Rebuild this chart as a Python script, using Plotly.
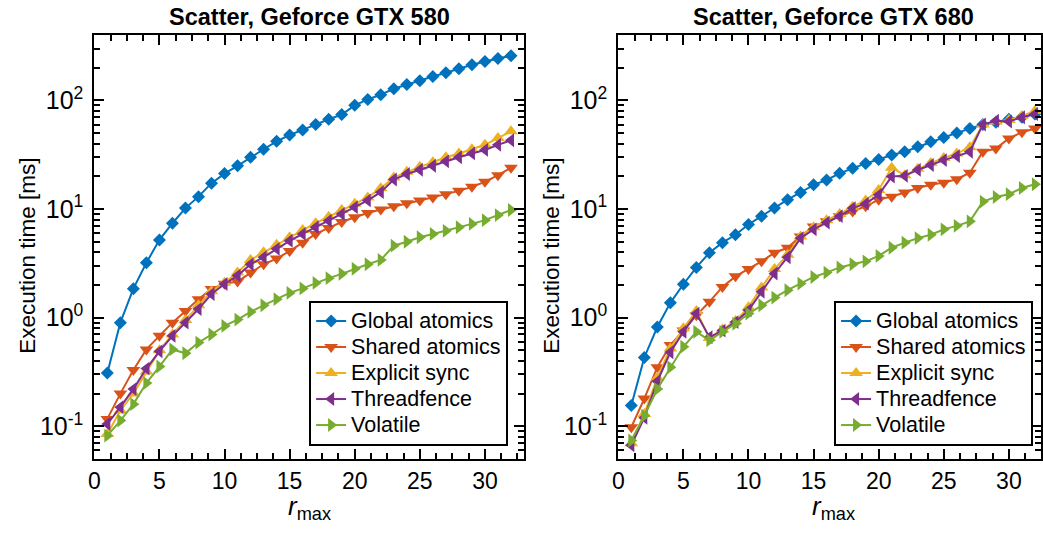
import plotly.graph_objects as go

# ---------------- data ----------------
r_max = list(range(1, 33))
series_names = ["Global atomics", "Shared atomics", "Explicit sync", "Threadfence", "Volatile"]

# GTX 580 (left panel), execution time in ms
gtx580_global = [0.31, 0.9, 1.85, 3.2, 5.2, 7.4, 10.2, 13, 17.3, 21.2, 25, 30, 35.5, 42, 48, 53.5,
                 60, 67, 74, 90, 102, 113, 128, 140, 152, 166, 180, 196, 213, 228, 243, 258]
gtx580_shared = [0.117, 0.2, 0.33, 0.51, 0.68, 0.9, 1.15, 1.48, 1.84, 2.05, 2.15, 2.6, 3.1, 3.5, 4.1, 4.9,
                 5.9, 6.7, 7.6, 8.4, 9.2, 9.9, 10.6, 11.3, 12.0, 12.8, 13.7, 14.7, 16.0, 17.8, 20.5, 24]
gtx580_explicit = [0.085, 0.14, 0.2, 0.32, 0.5, 0.7, 0.95, 1.3, 1.75, 2.1, 2.6, 3.4, 4.0, 4.7, 5.5, 6.4,
                   7.4, 8.5, 9.8, 11.2, 12.8, 15.5, 19.5, 22, 24.5, 27, 30, 32.5, 35.5, 39, 45, 52]
gtx580_threadfence = [0.105, 0.15, 0.22, 0.34, 0.49, 0.68, 0.9, 1.2, 1.65, 2.04, 2.44, 3.1, 3.6, 4.3, 5.1, 5.9,
                      6.8, 7.8, 9.0, 10.4, 12, 14.3, 18.7, 21, 23, 25, 27.5, 30, 32.5, 35, 39, 43]
gtx580_volatile = [0.082, 0.113, 0.16, 0.25, 0.355, 0.51, 0.47, 0.59, 0.7, 0.84, 0.96, 1.13, 1.3, 1.48, 1.69, 1.86,
                   2.09, 2.31, 2.53, 2.82, 3.1, 3.4, 4.6, 5.0, 5.5, 5.9, 6.3, 6.8, 7.3, 7.9, 8.8, 9.8]

# GTX 680 (right panel), execution time in ms
gtx680_global = [0.155, 0.43, 0.82, 1.37, 2.03, 2.9, 3.96, 4.9, 5.8, 7.2, 8.6, 10.2, 12.2, 14.2, 16.7, 18.5,
                 21.3, 23.7, 26.3, 28.6, 31.4, 33.7, 37.4, 41.6, 45.6, 50.2, 55, 60, 63, 67, 70, 75]
gtx680_shared = [0.098, 0.18, 0.35, 0.56, 0.76, 1.05, 1.4, 1.92, 2.4, 2.8, 3.3, 3.96, 4.4, 5.6, 6.9, 7.7,
                 8.6, 9.5, 10.6, 12.2, 13, 14.2, 15.6, 16.7, 17.5, 18.8, 21.6, 33.7, 36, 44.7, 51, 55]
gtx680_explicit = [0.07, 0.13, 0.28, 0.52, 0.8, 1.15, 0.65, 0.78, 0.93, 1.25, 1.9, 2.8, 3.8, 5.6, 6.8, 7.9,
                   9.0, 10.5, 12, 15, 24, 20.5, 23.5, 26.5, 29.5, 32.5, 37, 60, 64, 66, 72, 80]
gtx680_threadfence = [0.067, 0.12, 0.26, 0.48, 0.74, 1.09, 0.66, 0.76, 0.91, 1.17, 1.73, 2.55, 3.6, 5.4, 6.5, 7.5,
                      8.6, 10.2, 11.2, 13.5, 19.9, 20.2, 22.9, 25.4, 28.2, 30.7, 33.6, 60, 65, 64, 70, 75]
gtx680_volatile = [0.074, 0.125, 0.22, 0.35, 0.54, 0.74, 0.62, 0.74, 0.88, 1.09, 1.3, 1.53, 1.79, 2.06, 2.37, 2.6,
                   2.9, 3.1, 3.3, 3.7, 4.4, 4.9, 5.4, 5.8, 6.5, 7.0, 7.7, 11.7, 12.9, 13.7, 15.6, 16.9]

panel_titles = ["Scatter, Geforce GTX 580", "Scatter, Geforce GTX 680"]
y_tick_values = [0.1, 1, 10, 100]
y_tick_labels = ["10<sup>-1</sup>", "10<sup>0</sup>", "10<sup>1</sup>", "10<sup>2</sup>"]

# ---------------- style ----------------
colors = ["#0072BD", "#D95319", "#EDB120", "#7E2F8E", "#77AC30"]
symbols = ["diamond", "triangle-down", "triangle-up", "triangle-left", "triangle-right"]
sizes = [10, 12, 12, 12, 12]
FONT = "Liberation Sans, Arial, Helvetica, sans-serif"
W, H = 1043, 535
LEGEND_TEXT_PX = 21.5

panels = [
    [gtx580_global, gtx580_shared, gtx580_explicit, gtx580_threadfence, gtx580_volatile],
    [gtx680_global, gtx680_shared, gtx680_explicit, gtx680_threadfence, gtx680_volatile],
]

fig = go.Figure()
for p, data in enumerate(panels):
    xa = "x" if p == 0 else "x2"
    ya = "y" if p == 0 else "y2"
    for i, vals in enumerate(data):
        fig.add_trace(go.Scatter(
            x=r_max, y=vals,
            name='<span style="font-size:%spx">%s</span>' % (LEGEND_TEXT_PX, series_names[i]),
            mode="lines+markers",
            line=dict(color=colors[i], width=2),
            marker=dict(symbol=symbols[i], size=sizes[i], color=colors[i]),
            xaxis=xa, yaxis=ya,
            legend="legend" if p == 0 else "legend2",
        ))

px_per_unit = (522 - 89) / 33.0
left_dom = [89 / W, 522 / W]
right_dom = [617 / W, 1.0]
right_xmax = (W - 617) / px_per_unit
ydom = [(H - 459) / H, (H - 35) / H]

minor_y = [m * 10 ** e for e in range(-2, 3) for m in range(2, 10) if 0.05 <= m * 10 ** e <= 400]


def xaxis_style(domain, xmax, anchor):
    return dict(domain=domain, range=[0, xmax], anchor=anchor, tickmode="linear", tick0=0, dtick=5,
                ticks="inside", ticklen=10, tickwidth=2, tickcolor="black",
                minor=dict(ticks="inside", ticklen=6, tickwidth=2, tickcolor="black", dtick=1.25, tick0=0),
                showline=True, linewidth=2, linecolor="black", mirror="ticks",
                showgrid=False, zeroline=False,
                tickfont=dict(family=FONT, size=23, color="black"))


def yaxis_style(anchor):
    return dict(domain=ydom, type="log", range=[-1.301, 2.602], anchor=anchor,
                tickmode="array", tickvals=y_tick_values, ticktext=y_tick_labels,
                ticks="inside", ticklen=10, tickwidth=2, tickcolor="black",
                minor=dict(ticks="inside", ticklen=6, tickwidth=2, tickcolor="black",
                           tickmode="array", tickvals=minor_y),
                showline=True, linewidth=2, linecolor="black", mirror="ticks",
                showgrid=False, zeroline=False, ticklabelstandoff=4,
                tickfont=dict(family=FONT, size=25, color="black"))


legend_common = dict(bgcolor="white", bordercolor="black", borderwidth=2,
                     font=dict(family=FONT, size=17.7, color="black"),
                     xanchor="right", yanchor="bottom", tracegroupgap=0)

fig.update_layout(
    width=W, height=H, margin=dict(l=0, r=0, t=0, b=0),
    paper_bgcolor="white", plot_bgcolor="white",
    font=dict(family=FONT, color="black"),
    xaxis=xaxis_style(left_dom, 33, "y"),
    yaxis=yaxis_style("x"),
    xaxis2=xaxis_style(right_dom, right_xmax, "y2"),
    yaxis2=yaxis_style("x2"),
    legend=dict(x=506 / W, y=(H - 446) / H, **legend_common),
    legend2=dict(x=1035 / W, y=(H - 446) / H, **legend_common),
)

# titles and axis labels
centers = [(89 + 522) / 2, (617 + 1050) / 2]
ylabel_x = [22, 550]
for p in range(2):
    fig.add_annotation(text="<b>" + panel_titles[p] + "</b>", x=centers[p] / W, y=1 - 17 / H,
                       xref="paper", yref="paper", showarrow=False,
                       font=dict(family=FONT, size=23.5, color="black"),
                       xanchor="center", yanchor="middle")
    fig.add_annotation(text="<i>r</i><sub>max</sub>", x=centers[p] / W, y=1 - 489 / H,
                       xref="paper", yref="paper", showarrow=False,
                       font=dict(family=FONT, size=26, color="black"),
                       xanchor="center", yanchor="top")
    fig.add_annotation(text="Execution time [ms]", x=ylabel_x[p] / W, y=1 - 256 / H,
                       xref="paper", yref="paper", showarrow=False, textangle=-90,
                       font=dict(family=FONT, size=22.5, color="black"),
                       xanchor="center", yanchor="middle")

fig.write_html("out.html")
